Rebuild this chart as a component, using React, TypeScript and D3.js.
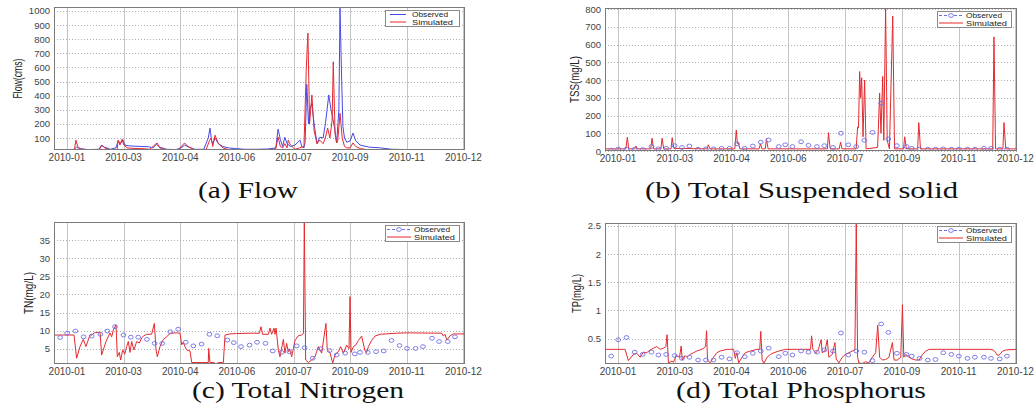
import React from "react";
import * as d3 from "d3";

type Pt = [number, number];

// x axis: day index of 2010 series; ticks evenly spaced with month labels
const tickDays = [11.5, 61.8, 112.1, 162.4, 212.7, 263, 313.3, 363.6];
const tickLabels = ["2010-01", "2010-03", "2010-04", "2010-06", "2010-07", "2010-09", "2010-11", "2010-12"];

// sampling days of observed water quality
const obsDays = [5.5, 11.7, 19, 26.3, 33.4, 41.2, 47.3, 54.2, 61.7, 68.2, 74.8, 82.5, 89.4, 96.1, 103.3, 110.3, 117, 123.8, 131, 138, 145, 153.9, 159.7, 166.1, 173.7, 180.3, 187.8, 194.3, 202, 209, 215.6, 222.6, 229.8, 237, 244.7, 251, 258.6, 267.1, 271.8, 278.7, 286, 292.8, 299.7, 306.8, 313.5, 321.1, 327.7, 335.7, 342, 349.7, 356.1];

const flowObserved: Pt[] = [[0,15],[14,15],[18,20],[20,35],[23,25],[30,18],[40,20],[42,48],[45,35],[50,20],[55,30],[57,80],[59,60],[61,90],[63,50],[66,45],[72,42],[78,40],[84,38],[88,30],[91,55],[94,35],[100,20],[108,18],[112,25],[116,50],[120,35],[125,20],[133,20],[137,100],[138.5,170],[140,80],[141,60],[143,100],[146,60],[150,40],[155,30],[161,25],[170,20],[180,20],[190,22],[197,30],[199,163],[201,90],[203,40],[205,105],[207,60],[210,40],[214,50],[218.5,85],[220,40],[222,30],[223,70],[224.5,480],[226,200],[227,300],[229,345],[231,200],[233.6,60],[236,105],[239,100],[241,200],[242.5,300],[244,405],[246,300],[247,263],[249,180],[251,65],[253,300],[254,1020],[255.5,500],[256.6,180],[258,100],[260,70],[263,80],[265.5,135],[268,80],[271.8,50],[280,35],[290,30],[300,20],[320,17],[365,15]];
const flowSimulated: Pt[] = [[0,12],[18,12],[19.5,85],[21,40],[24,20],[32,15],[40,15],[42.6,50],[45,30],[50,15],[56,15],[57,85],[58.6,50],[60.4,90],[62,50],[65,30],[72,25],[78,25],[85,20],[91.5,65],[94,30],[100,15],[110,15],[116,65],[119,40],[125,15],[135,15],[138,80],[139.5,100],[141,40],[143,120],[146,60],[150,30],[156,15],[170,10],[190,10],[197,25],[199,107],[201,40],[203,30],[205,60],[207,30],[208,85],[210,50],[214,20],[218,30],[222,40],[224,580],[225.5,843],[227,200],[229,405],[231,150],[233.6,60],[236,85],[239,60],[241,100],[243,170],[245,100],[247,227],[248,640],[249.6,135],[251,65],[252,80],[254,275],[256,100],[258,40],[260,30],[263,30],[265.5,65],[268,40],[272,25],[280,15],[300,12],[365,12]];

const tssObserved = [5, 11, 10, 10, 8, 25, 12, 15, 30, 20, 28, 10, 12, 12, 15, 15, 40, 15, 28, 50, 62, 25, 35, 25, 52, 32, 25, 30, 20, 100, 35, 25, 60, 105, 270, 68, 30, 25, 15, 10, 10, 10, 12, 10, 10, 10, 10, 15, 15, 10, 10];
const tssSimulated: Pt[] = [[0,12],[18.5,12],[19.8,78],[21,12],[26.5,12],[27.5,28],[28.5,12],[40.5,12],[41.7,72],[43,12],[49.5,12],[50.6,72],[52,12],[58.5,12],[59.5,75],[61,15],[90.5,12],[91.5,35],[93,12],[115,12],[116.3,118],[117.3,40],[118,45],[119.5,12],[136.5,12],[137.7,40],[139,12],[142,12],[143,70],[144.5,12],[197,12],[198,103],[199.5,12],[207.5,12],[208.7,50],[210,12],[222.5,12],[223.8,135],[224.6,130],[225.6,448],[226.5,300],[227.4,413],[228.6,80],[230,400],[231.3,12],[241.5,20],[242.5,185],[243.3,327],[244.5,100],[246,420],[247,60],[248.6,805],[250,60],[252,12],[254.9,760],[256.5,12],[264.5,12],[265.5,80],[267,12],[277,12],[278,160],[279.5,12],[343.5,12],[344.6,643],[346,12],[352.5,12],[353.5,160],[355,12],[365,12]];

const tnObserved = [8.1, 9.3, 9.9, 8.3, 8.5, 9.0, 9.9, 11.1, 8.8, 8.2, 8.2, 7.6, 6.5, 6.5, 9.7, 10.4, 6.8, 5.8, 6.3, 9.0, 8.6, 7.4, 6.7, 5.6, 6.0, 6.8, 6.5, 4.4, 4.0, 4.2, 5.8, 5.3, 2.4, 5.0, 4.5, 3.3, 3.8, 3.6, 4.0, 4.0, 4.2, 4.4, 7.3, 5.9, 5.1, 5.1, 5.6, 7.9, 7.0, 7.0, 8.3];
const tnSimulated: Pt[] = [[0,8.8],[17.8,8.8],[20.1,2.4],[23.1,5.6],[26,7.6],[28.4,5.6],[31.4,8.3],[35.8,9.4],[40.9,9.6],[42.3,3.3],[46.2,7.0],[49.7,9.4],[51.2,8.3],[52.7,10.2],[55.1,11.6],[56.2,2.8],[58,4.0],[59.2,1.9],[61,4.7],[62.8,3.5],[64.5,5.6],[66,7.0],[67.5,4.0],[69,7.0],[71,4.7],[73.4,7.0],[75.8,6.6],[77.9,8.0],[79.3,8.5],[82.3,9.0],[86.7,9.0],[89.1,12.0],[90.6,4.7],[91.8,2.8],[94.1,5.6],[97.1,7.6],[100.1,8.3],[103,9.3],[109,9.4],[111.9,9.3],[113.4,6.1],[114.8,6.8],[116.3,5.6],[117.8,4.7],[120.8,4.4],[122.3,1.2],[137,1.2],[137.4,5.1],[138.5,1.2],[142.1,1.2],[143.9,0.8],[145.9,1.2],[150.4,1.2],[151.9,8.8],[156.3,9.1],[162.2,9.2],[174.1,9.3],[182.4,9.3],[183.8,11.1],[185.3,9.0],[190.4,9.0],[191.8,10.7],[193.3,9.0],[195.4,10.7],[196.3,9.0],[197.2,10.7],[197.7,9.3],[199.2,4.7],[200.7,2.8],[203.7,7.6],[205.1,3.8],[206.6,6.5],[208.1,4.2],[209,5.0],[211.1,2.8],[214,7.3],[217,8.6],[220,8.8],[221.5,9.3],[222.3,40],[223.5,1.9],[225.9,1.2],[228.8,1.9],[231.8,2.8],[234.7,5.6],[237.7,3.8],[241.5,12.0],[242.7,4.7],[245.1,4.0],[247.5,1.0],[249.5,3.3],[252.5,4.2],[254.6,5.6],[257,3.8],[259.9,6.0],[262,5.0],[262.9,19.4],[263.8,4.0],[265.9,5.6],[268.2,6.1],[270.3,7.3],[273.2,8.5],[276.2,4.4],[277.7,4.0],[279.2,5.6],[282.1,7.3],[285.1,8.5],[289.5,9.0],[304.3,9.3],[313.2,9.4],[344.3,9.3],[345.8,8.5],[347.3,9.0],[348.8,7.4],[350.3,8.0],[351.8,8.6],[354.7,9.1],[365,9.1]];

const tpObserved = [0.19, 0.48, 0.52, 0.26, 0.22, 0.26, 0.21, 0.22, 0.20, 0.15, 0.17, 0.12, 0.12, 0.12, 0.17, 0.14, 0.25, 0.18, 0.24, 0.28, 0.33, 0.18, 0.24, 0.21, 0.28, 0.26, 0.26, 0.30, 0.28, 0.60, 0.21, 0.28, 0.26, 0.11, 0.76, 0.61, 0.24, 0.22, 0.19, 0.15, 0.12, 0.13, 0.25, 0.22, 0.19, 0.15, 0.17, 0.17, 0.15, 0.14, 0.19];
const tpSimulated: Pt[] = [[0,0.31],[17.8,0.31],[20.7,0.11],[25.2,0.22],[28.1,0.24],[31.1,0.17],[34.1,0.26],[37,0.25],[40,0.30],[42.9,0.33],[45.9,0.36],[48.8,0.31],[51.8,0.33],[53.9,0.36],[55,0.57],[56.2,0.07],[59.2,0.10],[60.7,0.08],[63.1,0.20],[66,0.17],[67.5,0.37],[68.4,0.12],[71,0.20],[72.5,0.17],[75.5,0.22],[78.4,0.25],[81.4,0.28],[84.3,0.30],[87.3,0.33],[89.1,0.36],[90,0.64],[90.8,0.12],[93.2,0.07],[96.2,0.17],[99.1,0.25],[102.1,0.28],[108,0.31],[114,0.31],[115.4,0.15],[116.9,0.25],[118.4,0.07],[121.4,0.17],[124.3,0.25],[128.8,0.28],[134.7,0.31],[137.1,0.31],[138,0.63],[139.2,0.12],[140.7,0.06],[143.6,0.17],[146.6,0.22],[149.6,0.25],[154,0.28],[160,0.31],[182.1,0.31],[183,0.55],[184.2,0.31],[186.5,0.24],[188.9,0.30],[191.5,0.48],[192.4,0.25],[194.8,0.28],[196.9,0.48],[198.3,0.17],[201.3,0.22],[203.7,0.43],[204.8,0.14],[207.2,0.07],[210.2,0.17],[213.1,0.22],[216.1,0.25],[219.1,0.28],[221.4,0.30],[222.6,2.55],[223.8,0.17],[224.9,0.07],[227.9,0.06],[230.9,0.09],[233.8,0.07],[236.8,0.17],[239.8,0.25],[241.6,0.74],[243.3,0.17],[245.7,0.12],[248.7,0.13],[251.6,0.17],[254.6,0.43],[256.1,0.12],[259,0.12],[262,0.17],[263.5,1.10],[264.7,0.17],[266.4,0.22],[269.4,0.17],[271.8,0.14],[275.3,0.12],[278.3,0.12],[281.3,0.22],[284.2,0.28],[287.2,0.31],[340.5,0.31],[344,0.30],[345.8,0.26],[347.9,0.20],[349.9,0.22],[352.3,0.28],[355.3,0.30],[365,0.31]];

const flowTicks = [100, 200, 300, 400, 500, 600, 700, 800, 900, 1000];
const tssTicks = [0, 100, 200, 300, 400, 500, 600, 700, 800];
const tnTicks = [5, 10, 15, 20, 25, 30, 35];
const tpTicks = [0.5, 1, 1.5, 2, 2.5];

const seriesNames = ["Observed", "Simulated"];
const titles = ["(a)  Flow", "(b)  Total  Suspended  solid", "(c)  Total   Nitrogen", "(d)  Total  Phosphorus"];

const BLUE = "#4848ea";
const CIRC = "#6e6ee6";
const RED = "#e52a2f";
const FONT = "Liberation Sans, Arial, sans-serif";
const SERIF = "Liberation Serif, Times New Roman, serif";

interface PanelProps {
  id: string;
  left: number; right: number; top: number; bottom: number;
  yDomain: [number, number];
  yTicks: number[];
  ylabel: string; ylabelX: number; ylabelLen: number;
  obsLine?: Pt[];
  obsVals?: number[];
  sim: Pt[];
}

function Panel(p: PanelProps) {
  const x = d3.scaleLinear().domain([0, 365]).range([p.left, p.right]);
  const y = d3.scaleLinear().domain(p.yDomain).range([p.bottom, p.top]);
  const line = d3.line<Pt>().x(d => x(d[0])).y(d => y(d[1]));
  const fmt = (v: number) => String(v);
  const cy = (p.top + p.bottom) / 2;
  const lw = 74, lh = 16;
  const lx = p.right - 6 - lw, ly = p.top + 3;
  const r1 = ly + 4.5, r2 = ly + 12;
  const sx1 = p.obsLine ? lx + 5 : lx + 2;
  const sx2 = p.obsLine ? lx + 21 : lx + 26;
  const tx = p.obsLine ? lx + 27 : lx + 29;
  return (
    <g>
      <defs>
        <clipPath id={"clip-" + p.id}>
          <rect x={p.left} y={p.top} width={p.right - p.left} height={p.bottom - p.top} />
        </clipPath>
      </defs>
      <rect x={p.left} y={p.top} width={p.right - p.left} height={p.bottom - p.top} fill="#fff" />
      {tickDays.map((d, i) => (
        <line key={"vg" + i} x1={Math.round(x(d)) + 0.5} x2={Math.round(x(d)) + 0.5} y1={p.top} y2={p.bottom} stroke="#c4c4c4" strokeWidth={1} />
      ))}
      {p.yTicks.map((t, i) => (
        <line key={"hg" + i} x1={p.left} x2={p.right} y1={Math.round(y(t)) + 0.5} y2={Math.round(y(t)) + 0.5} stroke="#b0b0b0" strokeWidth={1} strokeDasharray="1,2" />
      ))}
      <g clipPath={`url(#clip-${p.id})`}>
        {p.obsLine && <path d={line(p.obsLine) || ""} fill="none" stroke={BLUE} strokeWidth={1} />}
        <path d={line(p.sim) || ""} fill="none" stroke={RED} strokeWidth={1} />
        {p.obsVals && p.obsVals.map((v, i) => (
          <ellipse key={"o" + i} cx={x(obsDays[i])} cy={y(v)} rx={2.4} ry={1.9} fill="none" stroke={CIRC} strokeWidth={0.9} />
        ))}
      </g>
      <rect x={p.left + 0.5} y={p.top + 0.5} width={p.right - p.left - 1} height={p.bottom - p.top - 1} fill="none" stroke="#7a7a7a" strokeWidth={1} />
      {p.yTicks.map((t, i) => (
        <text key={"yt" + i} x={p.left - 4} y={y(t)} textAnchor="end" dominantBaseline="central" fontSize={9.5} fontFamily={FONT} fill="#444">{fmt(t)}</text>
      ))}
      {tickDays.map((d, i) => (
        <text key={"xt" + i} x={x(d)} y={p.bottom + 7} textAnchor="middle" dominantBaseline="central" fontSize={10} fontFamily={FONT} fill="#444">{tickLabels[i]}</text>
      ))}
      <text transform={`translate(${p.ylabelX},${cy}) rotate(-90)`} textAnchor="middle" dominantBaseline="central" fontSize={13} fontFamily={FONT} fill="#222" textLength={p.ylabelLen} lengthAdjust="spacingAndGlyphs">{p.ylabel}</text>
      <rect x={lx + 0.5} y={ly + 0.5} width={lw} height={lh} fill="#fff" stroke="#8a8a8a" strokeWidth={1} />
      {p.obsLine ? (
        <line x1={sx1} x2={sx2} y1={r1} y2={r1} stroke={BLUE} strokeWidth={1} />
      ) : (
        <g>
          <line x1={sx1} x2={sx2} y1={r1} y2={r1} stroke={CIRC} strokeWidth={1} strokeDasharray="3,2" />
          <ellipse cx={lx + 14} cy={r1} rx={2.4} ry={1.9} fill="#fff" stroke={CIRC} strokeWidth={0.9} />
        </g>
      )}
      <line x1={sx1} x2={sx2} y1={r2} y2={r2} stroke={RED} strokeWidth={1} />
      <text x={tx} y={r1 + 2.6} fontSize={7.4} fontFamily={FONT} fill="#222" textLength={36} lengthAdjust="spacingAndGlyphs">{seriesNames[0]}</text>
      <text x={tx} y={r2 + 2.6} fontSize={7.4} fontFamily={FONT} fill="#222" textLength={41} lengthAdjust="spacingAndGlyphs">{seriesNames[1]}</text>
    </g>
  );
}

export default function App() {
  return (
    <svg width={1035} height={419} style={{ position: "absolute", left: 0, top: 0, background: "#fff" }}>
      <rect x={0} y={0} width={1035} height={419} fill="#fff" />
      <Panel id="flow" left={54} right={465} top={7} bottom={150} yDomain={[15, 1028]} yTicks={flowTicks}
        ylabel="Flow(cms)" ylabelX={17} ylabelLen={40} obsLine={flowObserved} sim={flowSimulated} />
      <Panel id="tss" left={605} right={1017} top={8} bottom={151} yDomain={[0, 806]} yTicks={tssTicks}
        ylabel="TSS(mg/L)" ylabelX={574} ylabelLen={47} obsVals={tssObserved} sim={tssSimulated} />
      <Panel id="tn" left={54} right={465} top={222} bottom={364} yDomain={[0.8, 40]} yTicks={tnTicks}
        ylabel="TN(mg/L)" ylabelX={28} ylabelLen={42} obsVals={tnObserved} sim={tnSimulated} />
      <Panel id="tp" left={605} right={1017} top={223} bottom={364} yDomain={[0.05, 2.55]} yTicks={tpTicks}
        ylabel="TP(mg/L)" ylabelX={576} ylabelLen={39} obsVals={tpObserved} sim={tpSimulated} />
      <text x={198} y={198} fontFamily={SERIF} fontSize={24} fill="#111" textLength={100} lengthAdjust="spacingAndGlyphs">{titles[0]}</text>
      <text x={645} y={198} fontFamily={SERIF} fontSize={24} fill="#111" textLength={313} lengthAdjust="spacingAndGlyphs">{titles[1]}</text>
      <text x={192} y={398} fontFamily={SERIF} fontSize={24} fill="#111" textLength={212} lengthAdjust="spacingAndGlyphs">{titles[2]}</text>
      <text x={676} y={398} fontFamily={SERIF} fontSize={24} fill="#111" textLength={250} lengthAdjust="spacingAndGlyphs">{titles[3]}</text>
    </svg>
  );
}
